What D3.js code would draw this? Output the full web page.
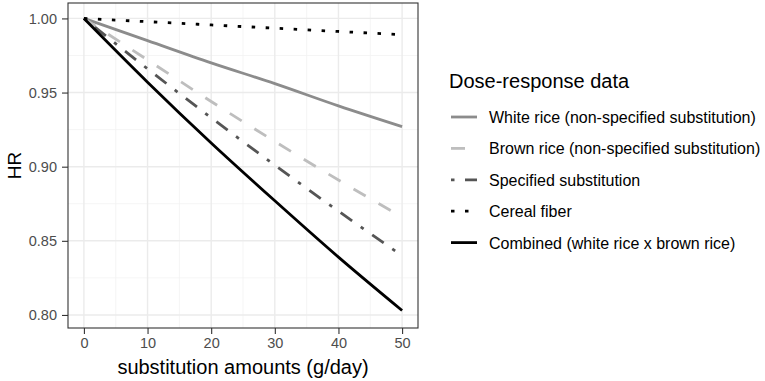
<!DOCTYPE html>
<html>
<head>
<meta charset="utf-8">
<script src="https://cdn.jsdelivr.net/npm/d3@7"></script>
<style>
  body { margin: 0; background: #fff; }
  svg text { font-family: Arial, "Liberation Sans", sans-serif; fill: #000; }
</style>
</head>
<body>
<div id="chart"></div>
<script>
// substitution amounts (g/day)
var amounts = [0, 10, 20, 30, 40, 50];

// HR values
var whiteRice = [1.000, 0.985, 0.970, 0.956, 0.941, 0.927];
var brownRice = [1.000, 0.972, 0.944, 0.917, 0.891, 0.866];
var specified = [1.000, 0.966, 0.933, 0.901, 0.870, 0.840];
var cerealFiber = [1.000, 0.9978, 0.9956, 0.9934, 0.9912, 0.989];
var combined = [1.000, 0.957, 0.916, 0.877, 0.839, 0.803];

var seriesNames = [
    "White rice (non-specified substitution)",
    "Brown rice (non-specified substitution)",
    "Specified substitution",
    "Cereal fiber",
    "Combined (white rice x brown rice)"
];

var xTicks = [0, 10, 20, 30, 40, 50];
var yTicks = [0.80, 0.85, 0.90, 0.95, 1.00];

function drawChart() {

    var W = 765, H = 381;
    // panel box
    var margin = {top: 3, left: 68},
        width = 418 - 68,
        height = 328 - 3;

    var svg = d3.select("#chart")
        .append("svg")
        .attr("width", W)
        .attr("height", H);

    var g = svg.append("g")
        .attr("transform", "translate(" + margin.left + "," + margin.top + ")");

    // ggplot-like 5% expansion
    var x = d3.scaleLinear()
        .domain([-2.5, 52.5])
        .range([0, width]);
    var y = d3.scaleLinear()
        .domain([0.7912, 1.0104])
        .range([height, 0]);

    // minor grid
    var xMinor = [5, 15, 25, 35, 45];
    var yMinor = [0.825, 0.875, 0.925, 0.975];
    g.selectAll(".xminor").data(xMinor).enter().append("line")
        .attr("x1", function (d) { return x(d); })
        .attr("x2", function (d) { return x(d); })
        .attr("y1", 0).attr("y2", height)
        .attr("stroke", "#f2f2f2").attr("stroke-width", 0.8);
    g.selectAll(".yminor").data(yMinor).enter().append("line")
        .attr("y1", function (d) { return y(d); })
        .attr("y2", function (d) { return y(d); })
        .attr("x1", 0).attr("x2", width)
        .attr("stroke", "#f2f2f2").attr("stroke-width", 0.8);

    // major grid
    g.selectAll(".xmajor").data(xTicks).enter().append("line")
        .attr("x1", function (d) { return x(d); })
        .attr("x2", function (d) { return x(d); })
        .attr("y1", 0).attr("y2", height)
        .attr("stroke", "#ebebeb").attr("stroke-width", 1.4);
    g.selectAll(".ymajor").data(yTicks).enter().append("line")
        .attr("y1", function (d) { return y(d); })
        .attr("y2", function (d) { return y(d); })
        .attr("x1", 0).attr("x2", width)
        .attr("stroke", "#ebebeb").attr("stroke-width", 1.4);

    // axes
    var xAxis = g.append("g")
        .attr("transform", "translate(0," + height + ")")
        .call(d3.axisBottom(x).tickValues(xTicks).tickSize(6).tickPadding(4));
    var yAxis = g.append("g")
        .call(d3.axisLeft(y).tickValues(yTicks).tickFormat(d3.format(".2f")).tickSize(6).tickPadding(5));
    [xAxis, yAxis].forEach(function (a) {
        a.select(".domain").remove();
        a.selectAll(".tick line").attr("stroke", "#333").attr("stroke-width", 1.1);
        a.selectAll(".tick text")
            .style("fill", "#4d4d4d")
            .style("font-size", "14.5px")
            .style("font-family", "Arial, 'Liberation Sans', sans-serif");
    });

    // lines
    var styles = [
        {data: whiteRice, color: "#8c8c8c", dash: null},
        {data: brownRice, color: "#bebebe", dash: "14,15"},
        {data: specified, color: "#555555", dash: "3.5,10.5,14,10.5"},
        {data: cerealFiber, color: "#000000", dash: "3.5,10.5"},
        {data: combined, color: "#000000", dash: null}
    ];

    var line = d3.line()
        .x(function (d, i) { return x(amounts[i]); })
        .y(function (d) { return y(d); })
        .curve(d3.curveMonotoneX);

    styles.forEach(function (s) {
        g.append("path")
            .datum(s.data)
            .attr("d", line)
            .attr("fill", "none")
            .attr("stroke", s.color)
            .attr("stroke-width", 2.8)
            .attr("stroke-dasharray", s.dash);
    });

    // panel border
    g.append("rect")
        .attr("width", width).attr("height", height)
        .attr("fill", "none").attr("stroke", "#333").attr("stroke-width", 1.1);

    // axis titles
    svg.append("text")
        .attr("x", margin.left + width / 2)
        .attr("y", 374)
        .attr("text-anchor", "middle")
        .style("font-size", "20px")
        .text("substitution amounts (g/day)");
    svg.append("text")
        .attr("transform", "translate(21," + (margin.top + height / 2) + ") rotate(-90)")
        .attr("text-anchor", "middle")
        .style("font-size", "19px")
        .text("HR");

    // legend
    var legend = svg.append("g");
    legend.append("text")
        .attr("x", 449).attr("y", 88)
        .style("font-size", "20px")
        .text("Dose-response data");

    var items = legend.selectAll(".item")
        .data(styles)
        .enter().append("g")
        .attr("transform", function (d, i) { return "translate(0," + (117 + i * 31.4) + ")"; });
    items.append("line")
        .attr("x1", 451).attr("x2", 477)
        .attr("y1", 0).attr("y2", 0)
        .attr("stroke", function (d) { return d.color; })
        .attr("stroke-width", 2.8)
        .attr("stroke-dasharray", function (d) { return d.dash; });
    items.append("text")
        .attr("x", 489).attr("y", 6)
        .style("font-size", "16px")
        .text(function (d, i) { return seriesNames[i]; });
}

drawChart();
</script>
</body>
</html>
